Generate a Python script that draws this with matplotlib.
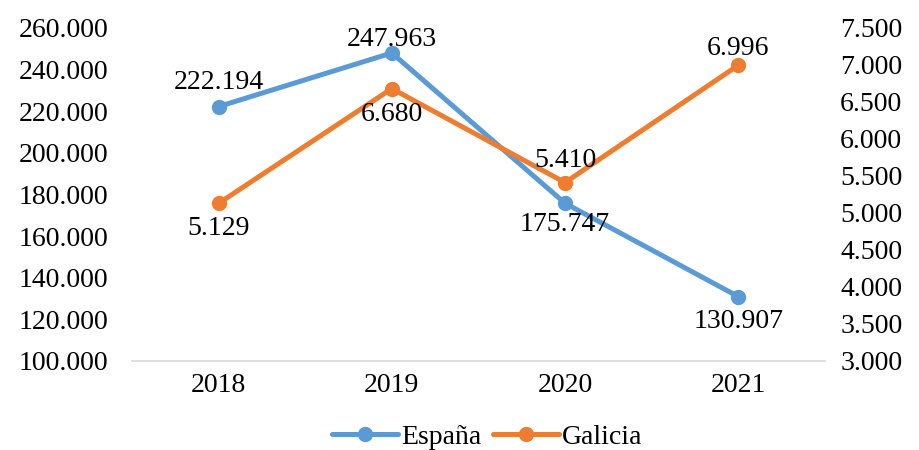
import matplotlib.pyplot as plt
from matplotlib.ticker import FuncFormatter

years = ['2018', '2019', '2020', '2021']
espana = [222194, 247963, 175747, 130907]
galicia = [5129, 6680, 5410, 6996]

blue = '#5B9BD5'
orange = '#ED7D31'

# label offsets in points (positive = above the point)
espana_off = [8, 1, -6, -9]
galicia_off = [-9, -10, 7, 3]

plt.rcParams['font.family'] = ['Liberation Serif', 'DejaVu Serif']
plt.rcParams['font.size'] = 20


def miles(v, pos=None):
    return '{:,.0f}'.format(v).replace(',', '.')


fig = plt.figure(figsize=(9.19, 4.5), dpi=100)
ax = fig.add_axes([0.1436, 0.198, 0.754, 0.74])
ax2 = ax.twinx()

x = list(range(len(years)))
l1, = ax.plot(x, espana, color=blue, lw=3.6, marker='o', ms=10, label='España',
              solid_capstyle='round', zorder=3)
l2, = ax2.plot(x, galicia, color=orange, lw=3.6, marker='o', ms=10, label='Galicia',
               solid_capstyle='round', zorder=3)

ax.set_ylim(100000, 260000)
ax.set_yticks(range(100000, 260001, 20000))
ax.yaxis.set_major_formatter(FuncFormatter(miles))
ax2.set_ylim(3000, 7500)
ax2.set_yticks(range(3000, 7501, 500))
ax2.yaxis.set_major_formatter(FuncFormatter(miles))

ax.set_xlim(-0.5, 3.5)
ax.set_xticks(x)
ax.set_xticklabels(years)

for a in (ax, ax2):
    for s in a.spines.values():
        s.set_visible(False)
    a.tick_params(length=0)
ax.spines['bottom'].set_visible(True)
ax.spines['bottom'].set_color('#D9D9D9')
ax.spines['bottom'].set_linewidth(1.2)
ax.tick_params(axis='y', pad=17)
ax2.tick_params(axis='y', pad=11)
ax.tick_params(axis='x', pad=9)

for i, v in enumerate(espana):
    off = espana_off[i]
    ax.annotate(miles(v), (i, v), textcoords='offset points', xytext=(0, off),
                ha='center', va='bottom' if off > 0 else 'top')
for i, v in enumerate(galicia):
    off = galicia_off[i]
    ax2.annotate(miles(v), (i, v), textcoords='offset points', xytext=(0, off),
                 ha='center', va='bottom' if off > 0 else 'top')

fig.legend(handles=[l1, l2], loc='lower center', bbox_to_anchor=(0.53, 0.0),
           ncol=2, frameon=False, handlelength=2.4, handletextpad=0.1,
           columnspacing=0.4, borderpad=0, borderaxespad=0)

fig.savefig('out.png', dpi=100)
